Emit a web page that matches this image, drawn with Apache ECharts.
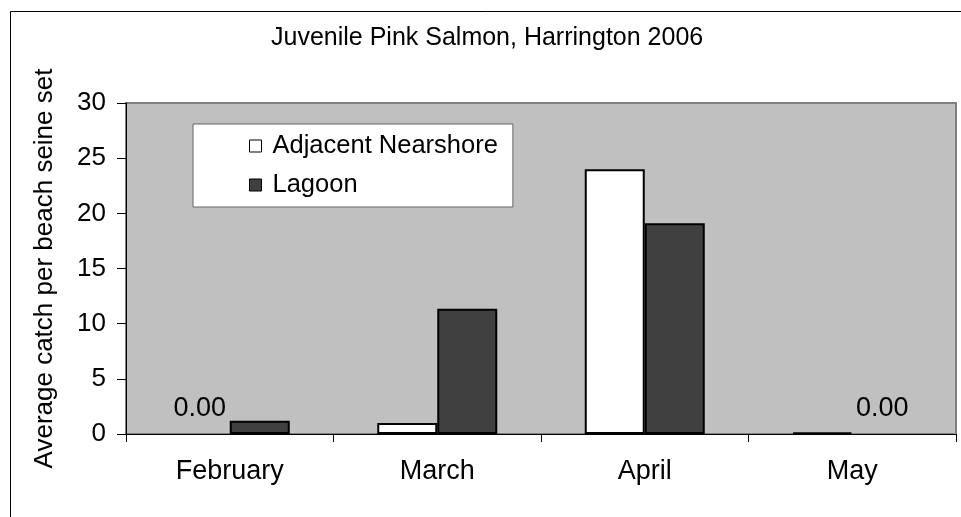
<!DOCTYPE html>
<html>
<head>
<meta charset="utf-8">
<script src="https://cdn.jsdelivr.net/npm/echarts@6/dist/echarts.min.js"></script>
<style>
  html, body { margin: 0; padding: 0; background: #fff; }
  #chart { width: 961px; height: 517px; }
</style>
</head>
<body>
<div id="chart"></div>
<script>
// chart data
var months = ["February", "March", "April", "May"];
var nearshore = [0, 1.0, 24.0, 0.15];
var lagoon = [1.2, 11.35, 19.1, 0];
var yTicks = { min: 0, max: 30, step: 5 };

var font = "'Liberation Sans', Arial, sans-serif";

// only the zero values get a "0.00" label, like the original
function withZeroLabels(values) {
  return values.map(function (v) {
    if (v === 0) {
      return {
        value: v,
        itemStyle: { borderWidth: 0 },
        label: {
          show: true,
          position: "top",
          distance: 12,
          formatter: function (p) { return p.value.toFixed(2); },
          color: "#000",
          fontSize: 27,
          fontFamily: font
        }
      };
    }
    return v;
  });
}

var chart = echarts.init(document.getElementById("chart"));

var option = {
  animation: false,
  backgroundColor: "#fff",
  textStyle: { fontFamily: font, color: "#000" },
  title: {
    text: "Juvenile Pink Salmon, Harrington 2006",
    left: 271,
    top: 26,
    padding: 0,
    textStyle: { fontFamily: font, fontSize: 25, fontWeight: "normal", color: "#000" }
  },
  graphic: [
    {
      type: "rect",
      silent: true,
      z: -1,
      shape: { x: 10.5, y: 11.5, width: 1000, height: 1000 },
      style: { fill: null, stroke: "#000", lineWidth: 1 }
    }
  ],
  grid: {
    left: 126,
    top: 103,
    right: 5,
    bottom: 83,
    show: true,
    backgroundColor: "#C0C0C0",
    borderColor: "#808080",
    borderWidth: 2
  },
  legend: {
    orient: "vertical",
    left: 193,
    top: 124,
    padding: [9, 15, 9, 56],
    itemGap: 13,
    itemWidth: 12,
    itemHeight: 12,
    icon: "rect",
    backgroundColor: "#fff",
    borderColor: "#666",
    borderWidth: 1,
    itemStyle: { borderWidth: 1, borderColor: "#000" },
    textStyle: { fontFamily: font, fontSize: 25.5, color: "#000", padding: [0, 0, 0, 6] },
    data: ["Adjacent Nearshore", "Lagoon"]
  },
  xAxis: {
    type: "category",
    data: months,
    axisLine: { lineStyle: { color: "#000", width: 1 } },
    axisTick: { show: true, length: 8, lineStyle: { color: "#000" } },
    axisLabel: { margin: 24, fontSize: 27, fontFamily: font, color: "#000" }
  },
  yAxis: {
    type: "value",
    min: yTicks.min,
    max: yTicks.max,
    interval: yTicks.step,
    name: "Average catch per beach seine set",
    nameLocation: "middle",
    nameRotate: 90,
    nameGap: 68,
    nameTextStyle: { fontFamily: font, fontSize: 26, color: "#000" },
    axisLine: { show: true, lineStyle: { color: "#000", width: 1 } },
    axisTick: { show: true, length: 9, lineStyle: { color: "#000" } },
    axisLabel: { margin: 20, fontSize: 26, fontFamily: font, color: "#000" },
    splitLine: { show: false }
  },
  series: [
    {
      name: "Adjacent Nearshore",
      type: "bar",
      barWidth: 60,
      barGap: "0%",
      data: withZeroLabels(nearshore),
      itemStyle: { color: "#fff", borderColor: "#000", borderWidth: 2 }
    },
    {
      name: "Lagoon",
      type: "bar",
      barWidth: 60,
      data: withZeroLabels(lagoon),
      itemStyle: { color: "#404040", borderColor: "#000", borderWidth: 2 }
    }
  ]
};

chart.setOption(option);
</script>
</body>
</html>
